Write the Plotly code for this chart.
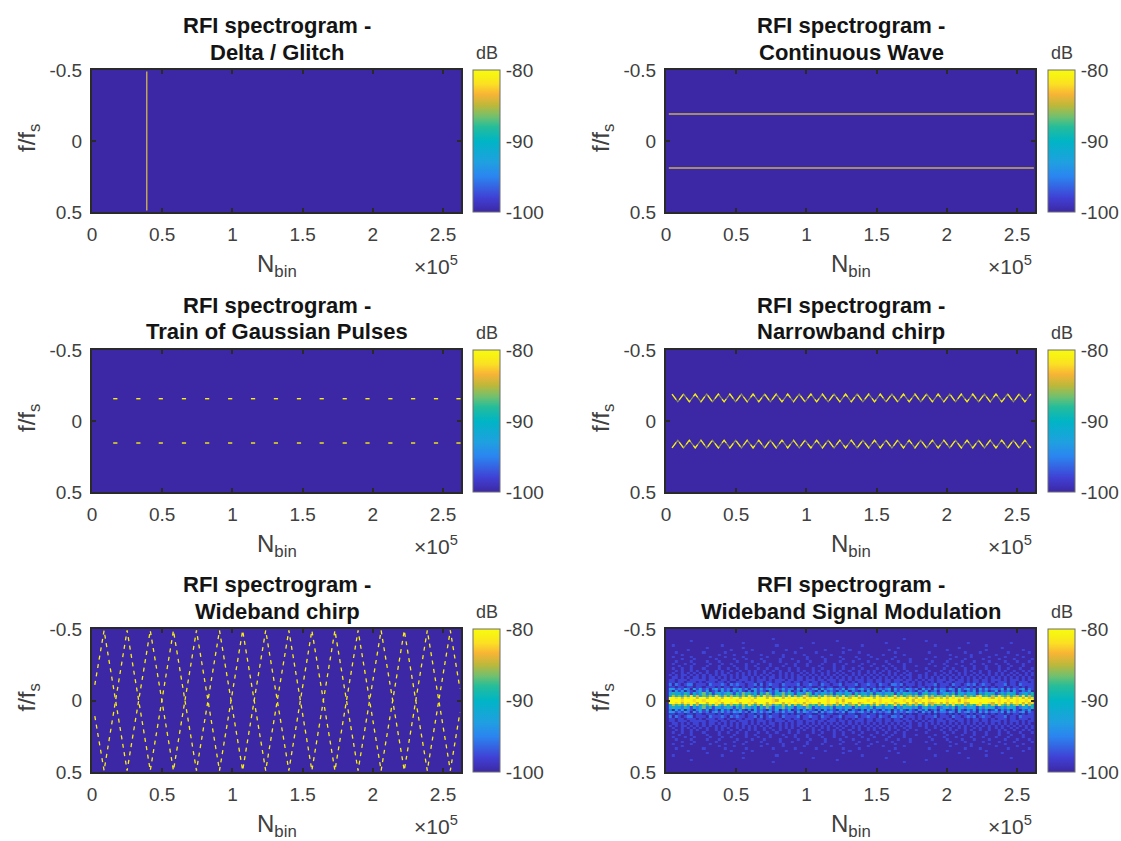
import plotly.graph_objects as go

W, H = 1121, 841
FONT = "Liberation Sans"
GREY = "#404040"
FRAME = "#2a2a2a"
YELLOW = "#F8F00F"
TAN = "#C9AE55"
BASE = "#3C28A4"

titles = ["Delta / Glitch", "Continuous Wave", "Train of Gaussian Pulses",
          "Narrowband chirp", "Wideband chirp", "Wideband Signal Modulation"]
x_ticks = [0, 50000, 100000, 150000, 200000, 250000]
x_labels = ["0", "0.5", "1", "1.5", "2", "2.5"]
y_ticks = [-0.5, 0, 0.5]
y_labels = ["-0.5", "0", "0.5"]
cb_ticks = [-100, -90, -80]
cb_labels = ["-100", "-90", "-80"]

parula = [[0, "#3C28A4"], [0.1, "#4040D4"], [0.25, "#2B85F0"], [0.35, "#1FA0E0"],
          [0.5, "#00B5C5"], [0.6, "#25BD9A"], [0.67, "#70C070"], [0.75, "#BDB83A"],
          [0.83, "#F8B435"], [0.9, "#FBDF25"], [0.95, "#F8F015"], [1, "#F8FA10"]]

# Panel 1
glitch_x = [39000, 39000]
glitch_y = [-0.49, 0.49]
# Panel 2
cw_x = [2000, 262000]
cw_upper = [-0.19, -0.19]
cw_lower = [0.19, 0.19]
# Panel 3
pulse_x = [16600, 33000, 49000, 65500, 82000, 98400, 114700, 131000,
           147400, 163600, 180000, 196200, 212500, 228700, 245000, 261000]
pulse_upper = [-0.157] * 16
pulse_lower = [0.155] * 16
# Panel 4
nb_peak_x = [4300, 12500, 20800, 29000, 37300, 45500, 53700, 62000, 70200, 78500, 86700,
             94900, 103200, 111400, 119700, 127900, 136100, 144400, 152600, 160900, 169100,
             177300, 185600, 193800, 202100, 210300, 218500, 226800, 235000, 243300, 251500, 259800]
nb_trough_x = [8400, 16600, 24900, 33100, 41400, 49600, 57800, 66100, 74300, 82600, 90800,
               99000, 107300, 115500, 123800, 132000, 140200, 148500, 156700, 165000, 173200,
               181400, 189700, 197900, 206200, 214400, 222600, 230900, 239100, 247400, 255600]
nb_peak_f = 0.19
nb_trough_f = 0.135
# Panel 5
wb_x = [2000, 8600, 25000, 41500, 58000, 74400, 90800, 107300, 123700, 140200,
        156600, 173000, 189500, 205900, 222400, 238800, 255200, 262000]
wb_f = [-0.11, -0.49, 0.49, -0.49, 0.49, -0.49, 0.49, -0.49, 0.49, -0.49,
        0.49, -0.49, 0.49, -0.49, 0.49, -0.49, 0.49, 0.085]
# Panel 6: level digits, rows going outward from f = 0, 120 time cells
wm_edges = [0, 0.012, 0.024, 0.04, 0.056, 0.072, 0.088, 0.104, 0.12, 0.136, 0.152, 0.168,
            0.184, 0.2, 0.216, 0.232, 0.248, 0.264, 0.28, 0.296, 0.312, 0.328, 0.344,
            0.36, 0.376, 0.392, 0.408, 0.424, 0.44, 0.47, 0.5]
wm_rows = [
 "9999899989 9899998999 9989999899 9999879999 9899989999 9989989799 9999989998 9998999899 7989989999 9899979899 9999999989 9899899899",
 "9989798997 9979989799 8997998979 9979899798 9989798997 9989979897 9978999798 9899789979 8797977897 9798989779 9989987989 7979897978",
 "4756475857 3657586475 7564758647 5867365758 4756875647 5867475846 7585647586 4756857467 5746857566 4758564756 4785647586 5746758475",
 "3534253142 4625134235 3152635241 5263143625 3143265132 4325143243 1524325143 2435142534 2413524312 3425143243 3142534124 2534123425",
 "2031302102 3130120312 0213102031 2102130213 0120312102 0312102130 2102031210 3120213102 1021301203 2012031021 3021201302 1203102130",
 "3312132031 3120231312 1323120231 3123021312 2031321230 3123121302 3123120312 1230312132 1203120312 2132031231 2031312213 0312123021",
 "1101101101 1011101011 0110101101 1010110110 1011011001 1011001101 1001101101 0110110101 0011010101 1010101101 0110101011 0101101011",
 "2021012201 1102111210 2121101120 2012110211 1120112110 2110112011 1201121102 1102212011 1010111201 1102110121 2012110111 2011021111",
 "1101101110 1011101101 0011011101 1011011011 0110110110 1101101010 1011011011 0110110110 1010101011 0110111010 1101101011 1011011101",
 "1101110111 1101110110 1101110101 1101011101 1011011101 1011101101 0111011011 0110111011 0101011011 1011011010 1101101110 1011101011",
 "0110101011 0101101010 1010110101 0101101010 1011010101 0101010101 0101010101 0101010101 0010101010 1010101010 1010101010 1010101010",
 "1010110101 0101010110 1010101010 1010101010 1010101010 1010101010 1010101010 1010101011 0010100101 0101010101 0101010101 0101010101",
 "0100101010 1010010101 0010101010 0101001010 1001010100 1010010100 1010010101 0010100101 0000100100 1010010100 1010010101 0010100101",
 "0010100101 0010010100 1001001010 0100101001 0010100101 0010101001 0010010100 1010010010 0100010001 0010100101 0010010010 1001001010",
 "0100100100 0100001001 0010010001 0010010001 0010000100 1000100100 1001000010 0100100100 0000100000 1001000100 1000100010 0100010001",
 "0001000100 0010001000 0100010010 0001000100 0100010001 0000100100 0010001000 1001000100 0100000100 0100001000 1000100010 0010001000",
 "0100010010 0001000100 1000010001 0001000010 0100010000 1000100010 0001000100 0010000100 0000010000 1000100001 0001000100 0100001000",
 "0010000100 0010001000 0010000100 0100001000 0010001000 0100001000 1000010000 0100010001 0000001000 0100001000 1000010000 1000100010",
 "0000100010 0000010000 0100010000 1000001000 1000010000 0100000100 0010000010 0001000001 0000100000 0010000100 0001000010 0001000001",
 "0100000100 0001000010 0000100000 0010000100 0000010000 1000001000 0100001000 0000100000 0000000100 0000100001 0000010000 1000001000",
 "0000100000 0000001000 0100000000 1000000100 0000100000 0001000000 0000010000 1000000100 0000000000 0010000001 0000000100 0000100000",
 "0010000000 0100000010 0000010000 0000100000 0100000010 0000000100 0010000000 0000100000 0000010000 0000000100 0010000000 0100000010",
 "0000001000 0000000000 1000000100 0000000010 0000000000 0100000001 0000000000 0010000000 0000000000 0100000000 0000100000 0000001000",
 "0000000000 0010000000 0000100000 0000000000 0001000000 0000000100 0000000000 0000010000 0000000000 0000010000 0000000001 0000000000",
 "0100000000 0000000100 0000000000 0000010000 0000000000 0000000000 0001000000 0000000000 0000000100 0000000000 0000100000 0000000000",
 "0000000000 0000000000 0000100000 0000000000 0000000100 0000000000 0000000000 0100000000 0000000000 0000000010 0000000000 0010000000",
 "0000000100 0000000000 0000000000 0000000000 0000000000 0000010000 0000000000 0000000000 0000100000 0000000000 0000000000 0000000000",
 "0000000000 0000000000 0000000000 0000100000 0000000000 0000000000 0000000000 0000000100 0000000000 0000000000 0000000000 0000000000",
 "0000000000 0000000000 0000000000 0000000000 0000000000 0000000000 0000000000 0000000000 0000000000 0000000000 0000000000 0000000000",
 "0000000000 0000000000 0000000000 0000000000 0000000000 0000000000 0000000000 0000000000 0000000000 0000000000 0000000000 0000000000",
]

X_MAX = 262800
columns = [(92, 461, 473.3), (666, 1035, 1048)]
rows = [(70, 212), (350, 492), (629, 772)]


def px(v):
    return v / W


def py(v):
    return 1 - v / H


fig = go.Figure()
annotations = []
layout = {}


def note(text, x, y, size, color=GREY, bold=False, anchor="center", angle=0):
    annotations.append(dict(
        text=f"<b>{text}</b>" if bold else text, x=px(x), y=py(y), xref="paper", yref="paper",
        showarrow=False, xanchor=anchor, yanchor="middle", textangle=angle,
        font=dict(family=FONT, size=size, color=color)))


positions = [(columns[c], rows[r]) for r in range(3) for c in range(2)]

for i, ((left, right, bar), (top, bottom)) in enumerate(positions, start=1):
    suffix = "" if i == 1 else str(i)
    xname, yname = "x" + suffix, "y" + suffix
    layout["xaxis" + suffix] = dict(
        domain=[px(left), px(right)], range=[0, X_MAX], anchor=yname,
        tickvals=x_ticks, ticktext=x_labels, ticks="inside", ticklen=4, tickwidth=2,
        tickcolor=FRAME, showline=True, mirror="ticks", linecolor=FRAME, linewidth=2,
        showgrid=False, zeroline=False, ticklabelstandoff=4,
        tickfont=dict(family=FONT, size=19, color=GREY))
    layout["yaxis" + suffix] = dict(
        domain=[py(bottom), py(top)], range=[0.5, -0.5], anchor=xname,
        tickvals=y_ticks, ticktext=y_labels, ticks="inside", ticklen=4, tickwidth=2,
        tickcolor=FRAME, showline=True, mirror="ticks", linecolor=FRAME, linewidth=2,
        showgrid=False, zeroline=False, ticklabelstandoff=4,
        tickfont=dict(family=FONT, size=19, color=GREY))

    if i == 6:
        half = [r.replace(" ", "") for r in wm_rows]
        z = [[-100 + int(d) * 20 / 9 for d in r] for r in half[::-1] + half]
        hm_x = dict(x0=2000 + 260000 / 240, dx=260000 / 120)
        hm_y = dict(y=[-e for e in wm_edges[::-1]] + wm_edges[1:])
    else:
        z = [[-100, -100], [-100, -100]]
        hm_x = dict(x=[0, X_MAX])
        hm_y = dict(y=[-0.5, 0.5])

    fig.add_trace(go.Heatmap(
        z=z, **hm_x, **hm_y, xaxis=xname, yaxis=yname, zmin=-100, zmax=-80,
        colorscale=parula, hoverinfo="skip",
        colorbar=dict(
            x=px(bar), xanchor="left", xpad=0, y=py((top + bottom) / 2), yanchor="middle", ypad=0,
            lenmode="pixels", len=bottom - top, thicknessmode="pixels", thickness=27,
            outlinecolor="#6e6e6e", outlinewidth=1, tickvals=cb_ticks, ticktext=cb_labels,
            ticks="outside", ticklen=2, tickcolor="rgba(0,0,0,0)",
            tickfont=dict(family=FONT, size=19, color=GREY))))

    center = (left + right) / 2 + 0.5
    note("RFI spectrogram -", center, top - 45, 22, "#141414", True)
    note(titles[i - 1], center, top - 18, 22, "#141414", True)
    note("dB", bar + 13.5, top - 17, 18)
    note("N<sub>bin</sub>", center, bottom + 53, 24)
    note("f/f<sub>s</sub>", left - 64, (top + bottom) / 2 - 3, 24, angle=-90)
    note("×10<sup>5</sup>", right - 1, bottom + 53, 21, anchor="right")


def add_line(x, y, axis, color, width, dash="solid"):
    fig.add_trace(go.Scatter(
        x=x, y=y, mode="lines", xaxis="x" + axis, yaxis="y" + axis, hoverinfo="skip",
        showlegend=False, line=dict(color=color, width=width, dash=dash)))


add_line(glitch_x, glitch_y, "", TAN, 1.4)
add_line(cw_x, cw_upper, "2", TAN, 1.3)
add_line(cw_x, cw_lower, "2", TAN, 1.3)

for f in (pulse_upper, pulse_lower):
    fig.add_trace(go.Scatter(
        x=pulse_x, y=f, mode="markers", xaxis="x3", yaxis="y3", hoverinfo="skip", showlegend=False,
        marker=dict(symbol="line-ew", size=3, color=YELLOW, line=dict(color=YELLOW, width=1.4))))

nb_x, nb_f = [], []
for k, peak in enumerate(nb_peak_x):
    nb_x.append(peak)
    nb_f.append(nb_peak_f)
    if k < len(nb_trough_x):
        nb_x.append(nb_trough_x[k])
        nb_f.append(nb_trough_f)
for sign in (-1, 1):
    ys = [sign * v for v in nb_f]
    add_line(nb_x, ys, "4", "#8E8F63", 1.2)
    add_line(nb_x, ys, "4", YELLOW, 1.2, "7px,5px")

for sign in (1, -1):
    add_line(wb_x, [sign * v for v in wb_f], "5", YELLOW, 1.3, "4px,4.5px")

fig.update_layout(
    width=W, height=H, margin=dict(l=0, r=0, t=0, b=0, autoexpand=False), paper_bgcolor="white",
    plot_bgcolor=BASE, showlegend=False, annotations=annotations, **layout)

fig.write_html("out.html", config={"displayModeBar": False},
               post_script="document.body.style.margin='0';document.body.style.overflow='hidden';")
